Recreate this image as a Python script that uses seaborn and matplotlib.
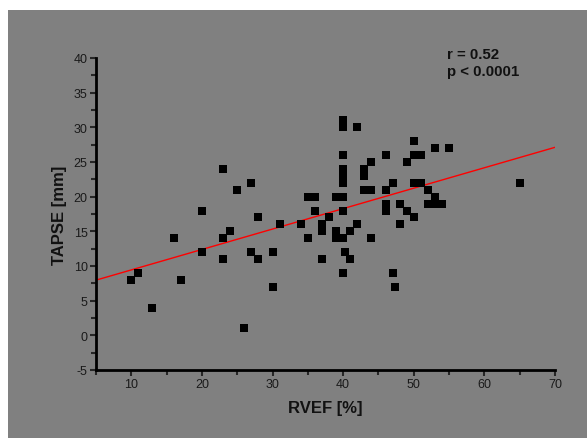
import numpy as np
import pandas as pd
import matplotlib
matplotlib.use("Agg")
import matplotlib.pyplot as plt
import seaborn as sns
from matplotlib.patches import Rectangle
from matplotlib.ticker import MultipleLocator

# RVEF [%] vs TAPSE [mm]
rvef = [10, 11, 13, 16, 17, 20, 20, 23, 23, 23, 24, 25, 26, 27, 27, 28, 28, 30, 30, 31,
        34, 35, 36, 35, 36, 37, 37, 37, 38, 39, 39, 39,
        40, 40, 40, 40, 40, 40, 40, 40, 40, 40, 40.2, 41, 41, 42, 42,
        43, 43, 43, 44, 44, 44, 46, 46, 46, 46, 47, 47, 47.4, 48, 48, 49, 49,
        50, 50, 51, 50, 51, 50, 52, 52, 53, 53, 53, 54, 55, 65]
tapse = [8, 9, 4, 14, 8, 18, 12, 24, 14, 11, 15, 21, 1, 22, 12, 17, 11, 12, 7, 16,
         16, 20, 20, 14, 18, 16, 15, 11, 17, 20, 15, 14,
         31, 30, 26, 24, 23, 22, 20, 18, 14, 9, 12, 15, 11, 30, 16,
         24, 23, 21, 25, 21, 14, 26, 21, 19, 18, 22, 9, 7, 19, 16, 25, 18,
         28, 26, 26, 22, 22, 17, 21, 19, 27, 20, 19, 19, 27, 22]

r_text = "r = 0.52\np < 0.0001"

df = pd.DataFrame({"rvef": rvef, "tapse": tapse})

sns.set_style("ticks")
plt.rcParams['font.family'] = ['Liberation Sans', 'DejaVu Sans']
plt.rcParams['axes.unicode_minus'] = False

fig = plt.figure(figsize=(5.87, 4.39), dpi=100)
fig.patch.set_facecolor("white")
# gray panel behind everything, white strip on top and left
fig.patches.append(Rectangle((8/587, 0), 1, 428/439, transform=fig.transFigure,
                             facecolor="#808080", edgecolor="none", zorder=-1))
ax = fig.add_axes([96/587, 68/439, 459/587, 312/439])
ax.set_facecolor("none")

ax.set_xlim(5, 70)
ax.set_ylim(-5, 40)

sns.scatterplot(data=df, x="rvef", y="tapse", marker="s", color="black",
                s=30, linewidth=0, ax=ax, zorder=3)
sns.regplot(data=df, x="rvef", y="tapse", scatter=False, ci=None, truncate=False,
            line_kws={"color": "red", "lw": 1.0}, ax=ax)
ax.set_xlim(5, 70)
ax.set_ylim(-5, 40)

ax.set_xticks([10, 20, 30, 40, 50, 60, 70])
ax.xaxis.set_minor_locator(MultipleLocator(5))
ax.yaxis.set_major_locator(MultipleLocator(5))
ax.yaxis.set_minor_locator(MultipleLocator(2.5))
ax.tick_params(which="major", direction="out", length=4, width=1.5,
               labelsize=9, labelcolor="#1a1a1a", pad=2)
ax.tick_params(which="minor", direction="out", length=3.5, width=1.5)

for side in ["top", "right"]:
    ax.spines[side].set_visible(False)
for side in ["left", "bottom"]:
    ax.spines[side].set_linewidth(2)
    ax.spines[side].set_color("black")

ax.set_xlabel("RVEF [%]", fontsize=12, fontweight="bold", labelpad=7, color="#111111")
ax.set_ylabel("TAPSE [mm]", fontsize=12, fontweight="bold", labelpad=5, color="#111111")

ax.text(0.765, 1.035, r_text, transform=ax.transAxes, fontsize=10.8, fontweight="bold",
        va="top", ha="left", linespacing=1.3, color="#111111")

fig.savefig("out.png", dpi=100)
